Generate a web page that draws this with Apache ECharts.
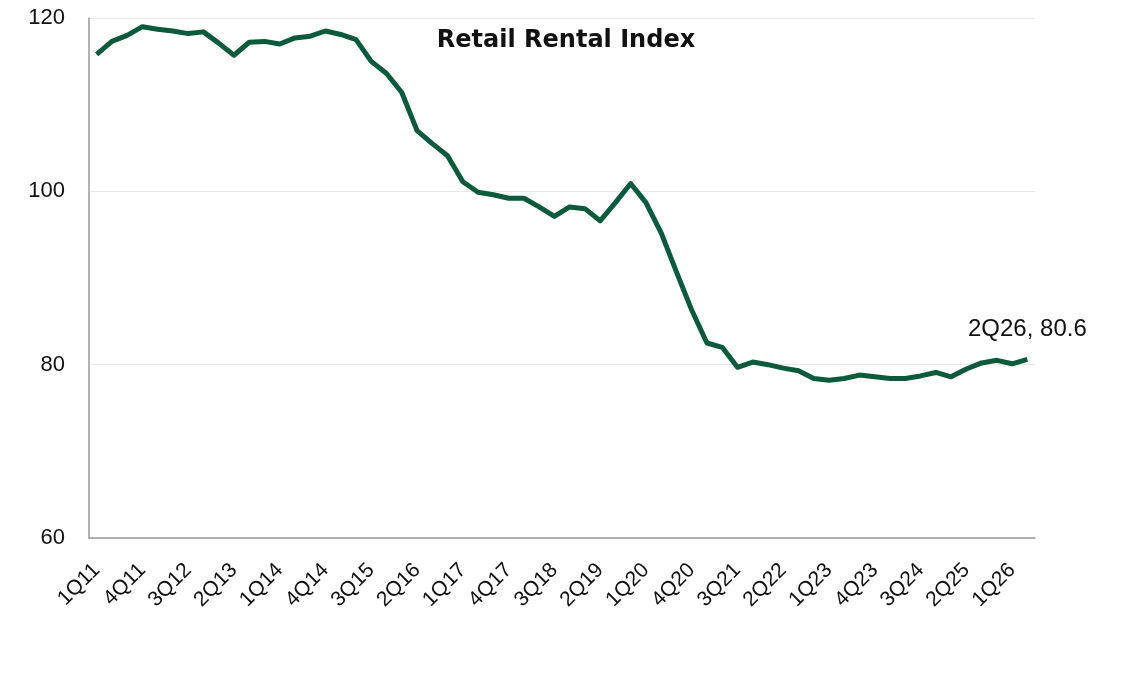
<!DOCTYPE html>
<html lang="en">
  <head>
    <meta charset="UTF-8" />
    <title>Retail Rental Index</title>
    <script src="https://cdn.jsdelivr.net/npm/echarts@6.0.0/dist/echarts.min.js"></script>
    <style>
      html, body { margin: 0; padding: 0; background: #fff; }
      #main { width: 1125px; height: 678px; }
    </style>
  </head>
  <body>
    <div id="main"></div>
    <script type="text/javascript">
      // quarters 1Q11 .. 2Q26
      var quarters = [];
      for (var yr = 11; yr <= 26; yr++) {
        for (var q = 1; q <= 4; q++) {
          if (yr === 26 && q > 2) break;
          quarters.push(q + "Q" + yr);
        }
      }

      var rentIndex = [
        115.8, 117.3, 118.0, 119.0, 118.7, 118.5, 118.2, 118.4, 117.1, 115.7,
        117.2, 117.3, 117.0, 117.7, 117.9, 118.5, 118.1, 117.5, 115.0, 113.6,
        111.4, 107.0, 105.5, 104.1, 101.1, 99.9, 99.6, 99.2, 99.2, 98.2,
        97.1, 98.2, 98.0, 96.6, 98.7, 100.9, 98.7, 95.2, 90.7, 86.3,
        82.5, 82.0, 79.7, 80.3, 80.0, 79.6, 79.3, 78.4, 78.2, 78.4,
        78.8, 78.6, 78.4, 78.4, 78.7, 79.1, 78.6, 79.5, 80.2, 80.5,
        80.1, 80.6
      ];

      var yTicks = { min: 60, max: 120, interval: 20 };
      var lineColor = "#0b5a3c";
      var lastIdx = rentIndex.length - 1;

      var myChart = echarts.init(document.getElementById("main"));

      var option = {
        animation: false,
        backgroundColor: "#fff",
        title: {
          text: "Retail Rental Index",
          left: 561,
          top: 24,
          textAlign: "center",
          textStyle: {
            fontFamily: "DejaVu Sans",
            fontWeight: "bold",
            fontSize: 24,
            color: "#111",
          },
        },
        grid: { left: 89, right: 90, top: 18, bottom: 140 },
        xAxis: {
          type: "category",
          data: quarters,
          boundaryGap: true,
          axisLine: { lineStyle: { color: "#999", width: 1.5 } },
          axisTick: { show: false },
          axisLabel: {
            interval: 2,
            rotate: 45,
            margin: 29,
            fontFamily: "Liberation Sans",
            fontSize: 21,
            color: "#111",
          },
        },
        yAxis: {
          type: "value",
          min: yTicks.min,
          max: yTicks.max,
          interval: yTicks.interval,
          axisLine: { show: true, lineStyle: { color: "#999", width: 1.5 } },
          axisTick: { show: false },
          splitLine: { lineStyle: { color: "#e8e8e8", width: 1 } },
          axisLabel: {
            margin: 24,
            fontFamily: "Liberation Sans",
            fontSize: 22,
            color: "#111",
          },
        },
        series: [
          {
            type: "line",
            data: rentIndex,
            symbol: "none",
            lineStyle: { color: lineColor, width: 5, join: "round" },
            itemStyle: { color: lineColor },
            markPoint: {
              symbol: "circle",
              symbolSize: 0,
              silent: true,
              data: [{ coord: [lastIdx, rentIndex[lastIdx]] }],
              label: {
                show: true,
                position: "top",
                distance: 18,
                formatter: quarters[lastIdx] + ", " + rentIndex[lastIdx].toFixed(1),
                fontFamily: "Liberation Sans",
                fontSize: 24,
                color: "#111",
              },
            },
          },
        ],
      };

      myChart.setOption(option);
    </script>
  </body>
</html>
